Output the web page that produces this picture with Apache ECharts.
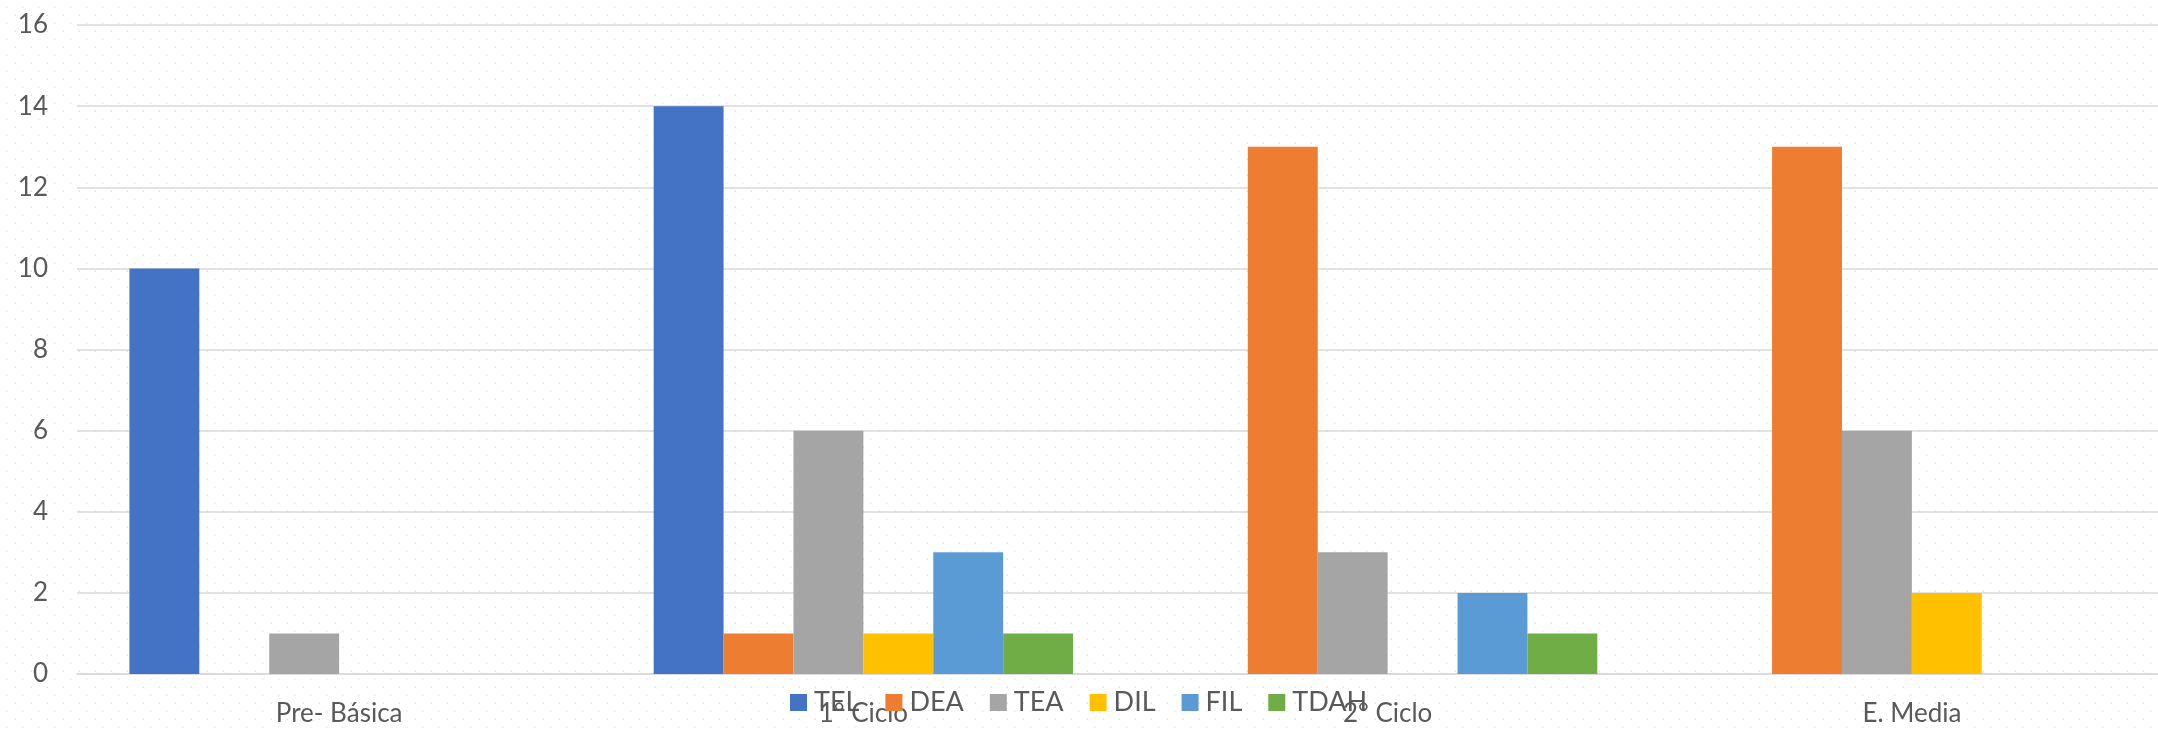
<!DOCTYPE html>
<html>
<head>
<meta charset="utf-8">
<script src="https://cdn.jsdelivr.net/npm/echarts@6/dist/echarts.min.js"></script>
<style>
html,body{margin:0;padding:0;background:#fff;}
#chart{width:2158px;height:729px;}
</style>
</head>
<body>
<div id="chart"></div>
<script>
const categories = ['Pre- Básica', '1° Ciclo', '2° Ciclo', 'E. Media'];
const seriesNames = ['TEL', 'DEA', 'TEA', 'DIL', 'FIL', 'TDAH'];
const TEL  = [10, 14, 0, 0];
const DEA  = [0, 1, 13, 13];
const TEA  = [1, 6, 3, 6];
const DIL  = [0, 1, 0, 2];
const FIL  = [0, 3, 2, 0];
const TDAH = [0, 1, 1, 0];
const seriesValues = [TEL, DEA, TEA, DIL, FIL, TDAH];
const colors = ['#4472C4', '#ED7D31', '#A5A5A5', '#FFC000', '#5B9BD5', '#70AD47'];

// dotted background pattern
const tile = document.createElement('canvas');
tile.width = 16; tile.height = 16;
const g = tile.getContext('2d');
g.fillStyle = '#ffffff'; g.fillRect(0, 0, 16, 16);
g.fillStyle = '#e2e2e2'; g.fillRect(14.5, 14.5, 2, 2);
g.fillStyle = '#eeeeee'; g.fillRect(5.5, 6.5, 3, 1);

const chart = echarts.init(document.getElementById('chart'));
const font = 'Lato, "Open Sans", sans-serif';
chart.setOption({
  backgroundColor: { image: tile, repeat: 'repeat' },
  animation: false,
  color: colors,
  grid: { left: 77, width: 2097, top: 25, bottom: 55, containLabel: false, outerBoundsMode: 'none' },
  legend: {
    left: 785, top: 684,
    itemWidth: 17, itemHeight: 17, itemGap: 26,
    icon: 'rect',
    textStyle: { color: '#595959', fontSize: 27, fontFamily: font, padding: [0, 0, 0, 2] },
    data: seriesNames
  },
  xAxis: {
    type: 'category',
    data: categories,
    axisLine: { lineStyle: { color: '#d9d9d9', width: 1.5 } },
    axisTick: { show: false },
    axisLabel: { color: '#595959', fontSize: 26, fontFamily: font, margin: 27 }
  },
  yAxis: {
    type: 'value',
    min: 0, max: 16, interval: 2,
    axisLine: { show: false },
    axisTick: { show: false },
    splitLine: { lineStyle: { color: '#d9d9d9', width: 1.5 } },
    axisLabel: { color: '#595959', fontSize: 26, fontFamily: font, margin: 29 }
  },
  series: seriesNames.map((n, i) => ({
    name: n,
    type: 'bar',
    data: seriesValues[i],
    barGap: '0%',
    barCategoryGap: '20%',
    itemStyle: { color: colors[i] }
  }))
});
</script>
</body>
</html>
